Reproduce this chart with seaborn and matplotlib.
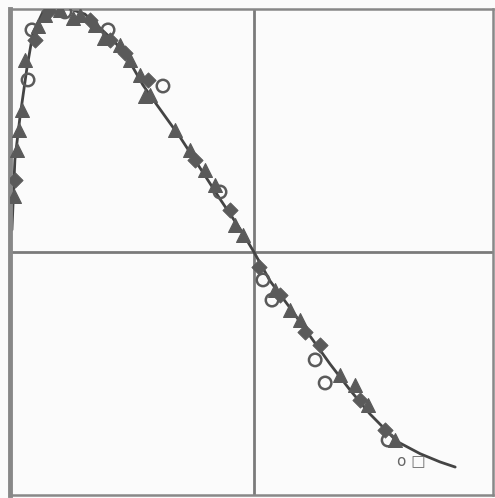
import matplotlib
matplotlib.use("Agg")
import matplotlib.pyplot as plt
import seaborn as sns
import pandas as pd

# fitted curve
curve_x = [-0.992, -0.980, -0.959, -0.930, -0.906, -0.865, -0.816, -0.754, -0.693, -0.631,
           -0.570, -0.520, -0.455, -0.406, -0.356, -0.303, -0.221, -0.139, -0.057, 0.0,
           0.066, 0.148, 0.230, 0.312, 0.394, 0.476, 0.587, 0.681, 0.763, 0.825]
curve_y = [0.091, 0.379, 0.556, 0.761, 0.901, 0.988, 1.0, 1.0, 0.979, 0.922,
           0.864, 0.802, 0.687, 0.617, 0.547, 0.473, 0.346, 0.218, 0.095, 0.0,
           -0.119, -0.230, -0.346, -0.461, -0.568, -0.667, -0.780, -0.830, -0.864, -0.885]

# measured points
circ_x = [-0.910, -0.598, -0.373, -0.139, 0.037, 0.074, 0.251, 0.292, 0.550, -0.775, -0.926]
circ_y = [0.914, 0.914, 0.683, 0.247, -0.115, -0.198, -0.444, -0.539, -0.774, 0.988, 0.708]

tri_x = [-0.467, -0.426, -0.549, -0.652, -0.795, -0.857, -0.951, -0.971, -0.324, -0.262,
         -0.201, -0.160, -0.078, -0.045, 0.086, 0.148, 0.189, 0.353, 0.415, 0.468,
         0.579, -0.939, -0.713, -0.508, -0.985, -0.962, -0.885, -0.740, -0.615, -0.445]
tri_y = [0.728, 0.646, 0.852, 0.934, 0.996, 0.975, 0.584, 0.420, 0.502, 0.420,
         0.337, 0.276, 0.111, 0.070, -0.156, -0.239, -0.280, -0.506, -0.547, -0.630,
         -0.774, 0.790, 0.975, 0.790, 0.230, 0.500, 0.930, 0.965, 0.880, 0.640]

dia_x = [-0.590, -0.434, -0.242, -0.098, 0.107, 0.271, 0.435, 0.538, -0.980, -0.898, -0.672,
         -0.840, -0.530, 0.020, 0.210]
dia_y = [0.872, 0.708, 0.379, 0.173, -0.177, -0.383, -0.609, -0.733, 0.296, 0.872, 0.955,
         0.990, 0.820, -0.060, -0.330]

sns.set_style("white")
fig = plt.figure(figsize=(4.95, 4.98), dpi=100, facecolor="#fbfbfb")
ax = fig.add_axes([10 / 495, 3 / 498, 483 / 495, 486 / 498])
ax.set_facecolor("#fbfbfb")

ax.axvline(0, color="#7a7a7a", lw=2, zorder=1)
ax.axhline(0, color="#7a7a7a", lw=2, zorder=1)

sns.lineplot(x=curve_x, y=curve_y, sort=False, color="#444444", lw=2, ax=ax, zorder=2)
sns.scatterplot(x=tri_x, y=tri_y, marker="^", s=100, color="#5a5a5a", edgecolor="#5a5a5a", ax=ax, zorder=3)
sns.scatterplot(x=dia_x, y=dia_y, marker="D", s=60, color="#5a5a5a", edgecolor="#5a5a5a", ax=ax, zorder=3)
sns.scatterplot(x=circ_x, y=circ_y, marker="o", s=80, facecolor="none", edgecolor="#5a5a5a",
                linewidth=1.8, ax=ax, zorder=4)

ax.text(0.645, -0.864, "o \u25a1", fontsize=11, color="#666666", ha="center", va="center")

ax.set_xlim(-1, 0.98)
ax.set_ylim(-1, 1)
ax.set_xticks([])
ax.set_yticks([])
for side, sp in ax.spines.items():
    sp.set_color("#888888")
    sp.set_linewidth(1.8)
ax.spines["left"].set_linewidth(3.5)

fig.savefig("out.png", dpi=100, facecolor=fig.get_facecolor())
